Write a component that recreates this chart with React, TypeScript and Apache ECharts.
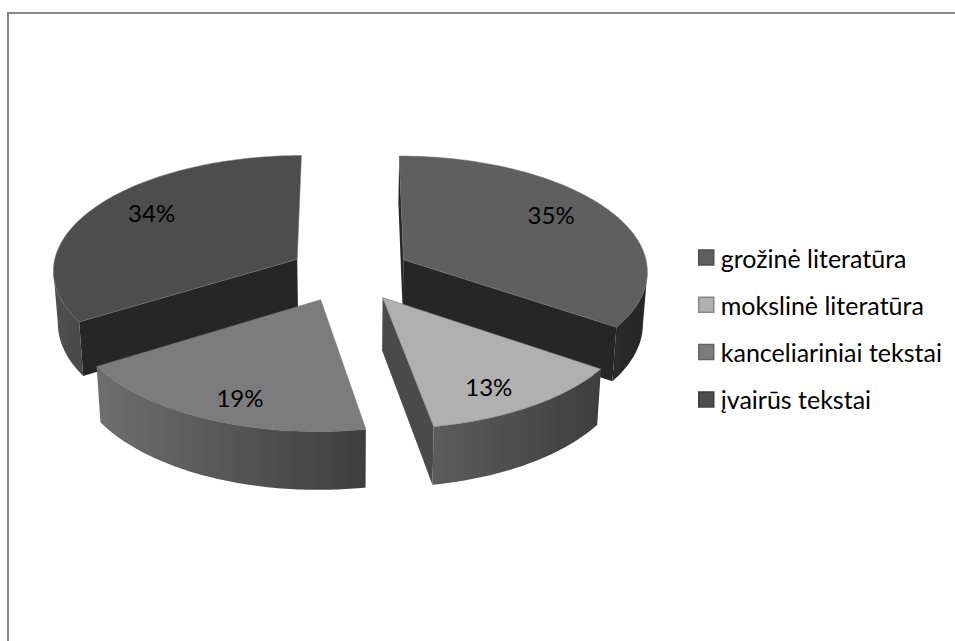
import React, { useEffect, useRef } from "react";
import * as echarts from "echarts";

const categories = ["grožinė literatūra", "mokslinė literatūra", "kanceliariniai tekstai", "įvairūs tekstai"];
// Shares of the whole; the printed labels are these rounded (they add to 101%)
const shares = [34.6, 12.6, 18.9, 33.9];
const topColors = ["#5f5f5f", "#b0b0b0", "#7c7c7c", "#4d4d4d"];
const wallLeft = ["#2a2a2a", "#5c5c5c", "#6e6e6e", "#505050"];
const wallRight = ["#262626", "#3e3e3e", "#3e3e3e", "#484848"];
const cutColors = ["#262626", "#4a4a4a", "#555555", "#262626"];
const legendBorders = ["#4e4e4e", "#868686", "#666666", "#3f3f3f"];
const paintOrder = [3, 0, 2, 1];
const nudgeX = [0, -1, -4, 0];

const CX = 350, CY = 273, R = 245, EXPLODE = 61, TILT = 0.47, PERSP = 3.6e-4, H = 52, SHRINK = 0.015;
const total = shares.reduce((a, b) => a + b, 0);
const startOf = (i: number) => (shares.slice(0, i).reduce((a, b) => a + b, 0) / total) * Math.PI * 2;
const endOf = (i: number) => startOf(i + 1);

function project(X: number, Y: number, z: number): [number, number] {
  const s = 1 / (1 - PERSP * Y);
  return [CX + X * s * (1 - SHRINK * z), CY + TILT * Y * s + H * z * s];
}

function renderSlice(i: number) {
  return (_params: any, api: any) => {
    const value = api.value(0);
    const a0 = startOf(i), a1 = endOf(i);
    const mid = (a0 + a1) / 2;
    const ox = Math.sin(mid) * EXPLODE + nudgeX[i], oy = -Math.cos(mid) * EXPLODE;
    const rim = (a: number, z: number) => project(ox + R * Math.sin(a), oy - R * Math.cos(a), z);
    const apex = (z: number) => project(ox, oy, z);
    const steps = 80;
    const angles: number[] = [];
    for (let k = 0; k <= steps; k++) angles.push(a0 + ((a1 - a0) * k) / steps);

    const children: any[] = [];
    const cut = (a: number, isStart: boolean) => {
      const p = [rim(a, 0), apex(0), apex(1), rim(a, 1)];
      const dTop = [p[1][0] - p[0][0], p[1][1] - p[0][1]];
      const dDown = [p[3][0] - p[0][0], p[3][1] - p[0][1]];
      const cross = dTop[0] * dDown[1] - dTop[1] * dDown[0];
      const visible = isStart ? cross > 0 : cross < 0;
      if (visible) children.push({ type: "polygon", shape: { points: p }, style: { fill: cutColors[i] } });
    };
    cut(a0, true);
    if (a1 < Math.PI * 2 - 0.01) cut(a1, false);

    const front = angles.filter((a, k) => {
      const next = angles[Math.min(k + 1, steps)], prev = angles[Math.max(k - 1, 0)];
      return rim(next, 0)[0] < rim(prev, 0)[0];
    });
    if (front.length > 1) {
      const upper = front.map((a) => rim(a, 0));
      const lower = front.map((a) => rim(a, 1)).reverse();
      children.push({
        type: "polygon",
        shape: { points: upper.concat(lower) },
        style: {
          fill: new echarts.graphic.LinearGradient(0, 0, 1, 0, [
            { offset: 0, color: wallLeft[i] },
            { offset: 1, color: wallRight[i] },
          ]),
        },
      });
    }

    const top = [apex(0)].concat(angles.map((a) => rim(a, 0)));
    children.push({
      type: "polygon",
      shape: { points: top },
      style: { fill: topColors[i], stroke: "#6f6f6f", lineWidth: 0.5 },
    });

    const lp = project(ox + 0.72 * R * Math.sin(mid), oy - 0.85 * R * Math.cos(mid), 0);
    children.push({
      type: "text",
      x: lp[0],
      y: lp[1] - 2,
      style: {
        text: Math.round(value) + "%",
        fill: "#000000",
        font: "24px Lato",
        align: "center",
        verticalAlign: "middle",
      },
    });
    return { type: "group", children };
  };
}

export default function App() {
  const ref = useRef<HTMLDivElement>(null);
  useEffect(() => {
    document.body.style.margin = "0";
    const chart = echarts.init(ref.current!, null, { renderer: "svg" });
    chart.setOption({
      animation: false,
      backgroundColor: "#ffffff",
      tooltip: { show: false },
      legend: {
        orient: "vertical",
        left: 698,
        top: 243,
        padding: 0,
        itemWidth: 15,
        itemHeight: 15,
        itemGap: 18.3,
        selectedMode: false,
        icon: "rect",
        textStyle: { fontFamily: "Lato", fontSize: 25, color: "#000000", padding: [0, 0, 0, 2], lineHeight: 29 },
        data: categories.map((name, i) => ({
          name,
          itemStyle: { color: topColors[i], borderColor: legendBorders[i], borderWidth: 1.5 },
        })),
      },
      graphic: [
        {
          type: "polyline",
          silent: true,
          shape: { points: [[8, 641], [8, 13], [955, 13]] },
          style: { stroke: "#868686", lineWidth: 2, fill: "none" },
        },
      ],
      series: paintOrder.map((i) => ({
        type: "custom",
        name: categories[i],
        coordinateSystem: "none",
        silent: true,
        itemStyle: { color: topColors[i] },
        data: [[shares[i]]],
        renderItem: renderSlice(i),
      })),
    });
    return () => chart.dispose();
  }, []);
  return <div ref={ref} style={{ position: "fixed", left: 0, top: 0, width: 955, height: 641 }} />;
}
